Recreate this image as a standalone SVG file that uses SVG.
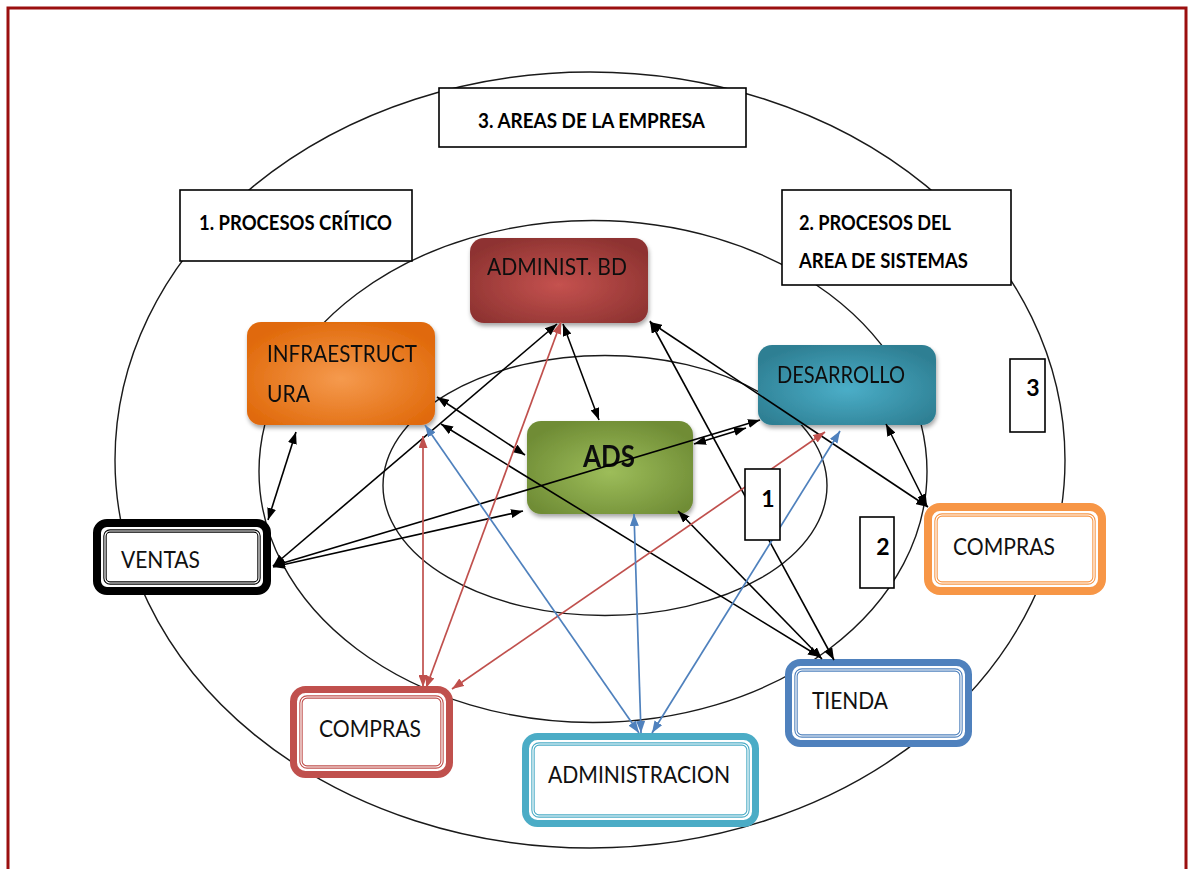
<svg xmlns="http://www.w3.org/2000/svg" width="1190" height="869" viewBox="0 0 1190 869">
  <defs>
    <style>
      .ring { fill: none; stroke: #1a1a1a; stroke-width: 1.4; }
      .lbl-box { fill: #fff; stroke: #000; stroke-width: 1.6; }
      .lbl { font-family: Lato, "Liberation Sans", sans-serif; font-weight: 700; font-size: 21px; fill: #000; }
      .num { font-family: Lato, "Liberation Sans", sans-serif; font-weight: 700; font-size: 23px; fill: #000; text-anchor: middle; }
      .txt { font-family: Lato, "Liberation Sans", sans-serif; font-size: 23px; fill: #111; }
      .ads { font-family: Lato, "Liberation Sans", sans-serif; font-weight: 700; font-size: 31px; fill: #111; }
      .k { fill: none; stroke: #000; stroke-width: 1.6; marker-start: url(#ah-k); marker-end: url(#ah-k); }
      .r { fill: none; stroke: #C0504D; stroke-width: 1.7; marker-start: url(#ah-r); marker-end: url(#ah-r); }
      .b { fill: none; stroke: #4F81BD; stroke-width: 1.7; marker-start: url(#ah-b); marker-end: url(#ah-b); }
      .inner-w { fill: none; stroke: #fff; stroke-width: 1.2; }
    </style>
    <marker id="ah-k" viewBox="0 0 12 9" refX="12" refY="4.5" markerWidth="12" markerHeight="9" markerUnits="userSpaceOnUse" orient="auto-start-reverse">
      <path d="M0,0 L12,4.5 L0,9 z" fill="#000"/>
    </marker>
    <marker id="ah-r" viewBox="0 0 12 9" refX="12" refY="4.5" markerWidth="12" markerHeight="9" markerUnits="userSpaceOnUse" orient="auto-start-reverse">
      <path d="M0,0 L12,4.5 L0,9 z" fill="#C0504D"/>
    </marker>
    <marker id="ah-b" viewBox="0 0 12 9" refX="12" refY="4.5" markerWidth="12" markerHeight="9" markerUnits="userSpaceOnUse" orient="auto-start-reverse">
      <path d="M0,0 L12,4.5 L0,9 z" fill="#4F81BD"/>
    </marker>
    <radialGradient id="g-red" cx="50%" cy="55%" r="60%">
      <stop offset="0" stop-color="#C5524F"/>
      <stop offset="1" stop-color="#8E3331"/>
    </radialGradient>
    <radialGradient id="g-orange" cx="50%" cy="55%" r="60%">
      <stop offset="0" stop-color="#F59A4E"/>
      <stop offset="1" stop-color="#E0690A"/>
    </radialGradient>
    <radialGradient id="g-green" cx="50%" cy="55%" r="60%">
      <stop offset="0" stop-color="#9DBD5A"/>
      <stop offset="1" stop-color="#6F8C35"/>
    </radialGradient>
    <radialGradient id="g-teal" cx="50%" cy="55%" r="60%">
      <stop offset="0" stop-color="#4BAEC8"/>
      <stop offset="1" stop-color="#2E7F93"/>
    </radialGradient>
    <filter id="shadow" x="-10%" y="-10%" width="120%" height="130%">
      <feDropShadow dx="1" dy="3" stdDeviation="2" flood-color="#000" flood-opacity="0.35"/>
    </filter>
  </defs>

  <!-- page frame -->
  <rect x="8" y="8" width="1178" height="880" fill="#fff" stroke="#9B0F0F" stroke-width="3"/>

  <!-- concentric areas -->
  <g id="rings">
    <ellipse class="ring" cx="590" cy="460" rx="475" ry="388"/>
    <ellipse class="ring" cx="593" cy="471.5" rx="334" ry="251"/>
    <ellipse class="ring" cx="605" cy="485.5" rx="222" ry="130"/>
  </g>

  <!-- filled process nodes -->
  <g id="node-adminbd" filter="url(#shadow)">
    <rect x="470" y="238" width="178" height="85" rx="14" fill="url(#g-red)"/>
    <text class="txt" x="487" y="275" textLength="140" lengthAdjust="spacingAndGlyphs">ADMINIST. BD</text>
  </g>
  <g id="node-infra" filter="url(#shadow)">
    <rect x="247" y="322" width="188" height="103" rx="14" fill="url(#g-orange)"/>
    <text class="txt" x="267" y="362" textLength="150" lengthAdjust="spacingAndGlyphs">INFRAESTRUCT</text>
    <text class="txt" x="267" y="402" textLength="43" lengthAdjust="spacingAndGlyphs">URA</text>
  </g>
  <g id="node-ads" filter="url(#shadow)">
    <rect x="527" y="421" width="166" height="93" rx="14" fill="url(#g-green)"/>
    <text class="ads" x="583" y="467" textLength="52" lengthAdjust="spacingAndGlyphs">ADS</text>
  </g>
  <g id="node-desarrollo" filter="url(#shadow)">
    <rect x="758" y="345" width="178" height="80" rx="14" fill="url(#g-teal)"/>
    <text class="txt" x="777" y="383" textLength="128" lengthAdjust="spacingAndGlyphs">DESARROLLO</text>
  </g>

  <!-- outlined area nodes -->
  <g id="node-ventas">
    <rect x="97" y="523" width="170" height="68" rx="10" fill="#fff" stroke="#000" stroke-width="8"/>
    <rect x="105" y="531" width="154" height="52" rx="5" fill="none" stroke="#000" stroke-width="3.4"/>
    <rect class="inner-w" x="105" y="531" width="154" height="52" rx="5"/>
    <text class="txt" x="121" y="568" textLength="79" lengthAdjust="spacingAndGlyphs">VENTAS</text>
  </g>
  <g id="node-compras-right">
    <rect x="928" y="507" width="174" height="84" rx="12" fill="#fff" stroke="#F79646" stroke-width="8"/>
    <rect x="936" y="515" width="158" height="68" rx="6" fill="none" stroke="#F79646" stroke-width="3.4"/>
    <rect class="inner-w" x="936" y="515" width="158" height="68" rx="6"/>
    <text class="txt" x="953" y="555" textLength="102" lengthAdjust="spacingAndGlyphs">COMPRAS</text>
  </g>
  <g id="node-compras-left">
    <rect x="293.5" y="689.5" width="156" height="85" rx="12" fill="#fff" stroke="#C0504D" stroke-width="7"/>
    <rect x="301" y="697" width="141" height="70" rx="6" fill="none" stroke="#C0504D" stroke-width="3.4"/>
    <rect class="inner-w" x="301" y="697" width="141" height="70" rx="6"/>
    <text class="txt" x="319" y="737" textLength="102" lengthAdjust="spacingAndGlyphs">COMPRAS</text>
  </g>
  <g id="node-administracion">
    <rect x="525.5" y="736.5" width="230" height="87" rx="12" fill="#fff" stroke="#4BACC6" stroke-width="7"/>
    <rect x="533" y="744" width="215" height="72" rx="6" fill="none" stroke="#4BACC6" stroke-width="3.4"/>
    <rect class="inner-w" x="533" y="744" width="215" height="72" rx="6"/>
    <text class="txt" x="548" y="783" textLength="182" lengthAdjust="spacingAndGlyphs">ADMINISTRACION</text>
  </g>
  <g id="node-tienda">
    <rect x="788.5" y="662.5" width="180" height="81" rx="12" fill="#fff" stroke="#4F81BD" stroke-width="7"/>
    <rect x="796" y="670" width="165" height="66" rx="6" fill="none" stroke="#4F81BD" stroke-width="3.4"/>
    <rect class="inner-w" x="796" y="670" width="165" height="66" rx="6"/>
    <text class="txt" x="812" y="709" textLength="76" lengthAdjust="spacingAndGlyphs">TIENDA</text>
  </g>

  <!-- relations between nodes -->
  <g id="connectors">
    <!-- black -->
    <line class="k" x1="268" y1="520" x2="296" y2="432"/>
    <line class="k" x1="563" y1="324" x2="599" y2="420"/>
    <line class="k" x1="273" y1="566" x2="557" y2="324"/>
    <line class="k" x1="273" y1="567" x2="523" y2="511"/>
    <line class="k" x1="273" y1="566" x2="760" y2="420"/>
    <line class="k" x1="694" y1="444" x2="746" y2="428"/>
    <line class="k" x1="437" y1="397" x2="525" y2="455"/>
    <line class="k" x1="441" y1="424" x2="820" y2="657"/>
    <line class="k" x1="678" y1="511" x2="822" y2="659"/>
    <line class="k" x1="650" y1="321" x2="834" y2="660"/>
    <line class="k" x1="650" y1="322" x2="928" y2="507"/>
    <line class="k" x1="886" y1="424" x2="927" y2="506"/>
    <!-- red -->
    <line class="r" x1="423" y1="436" x2="423" y2="687"/>
    <line class="r" x1="561" y1="322" x2="426" y2="688"/>
    <line class="r" x1="825" y1="432" x2="452" y2="689"/>
    <!-- blue -->
    <line class="b" x1="425" y1="425" x2="639" y2="733"/>
    <line class="b" x1="634" y1="514" x2="641" y2="733"/>
    <line class="b" x1="840" y1="431" x2="652" y2="733"/>
  </g>

  <!-- area titles and ring numbers -->
  <g id="label-areas">
    <rect class="lbl-box" x="439" y="88" width="307" height="59"/>
    <text class="lbl" x="478" y="128" textLength="227" lengthAdjust="spacingAndGlyphs">3. AREAS DE LA EMPRESA</text>
  </g>
  <g id="label-criticos">
    <rect class="lbl-box" x="180" y="190" width="232" height="71"/>
    <text class="lbl" x="199" y="229.5" textLength="193" lengthAdjust="spacingAndGlyphs">1. PROCESOS CRÍTICO</text>
  </g>
  <g id="label-sistemas">
    <rect class="lbl-box" x="782" y="190" width="229" height="95"/>
    <text class="lbl" x="799" y="230" textLength="152" lengthAdjust="spacingAndGlyphs">2. PROCESOS DEL</text>
    <text class="lbl" x="799" y="268" textLength="169" lengthAdjust="spacingAndGlyphs">AREA DE SISTEMAS</text>
  </g>
  <g id="label-ring-3">
    <rect class="lbl-box" x="1010" y="359" width="35" height="73"/>
    <text class="num" x="1033" y="396">3</text>
  </g>
  <g id="label-ring-1">
    <rect class="lbl-box" x="745" y="469" width="35" height="71"/>
    <text class="num" x="768" y="507">1</text>
  </g>
  <g id="label-ring-2">
    <rect class="lbl-box" x="860" y="517" width="34" height="71"/>
    <text class="num" x="883" y="555">2</text>
  </g>
</svg>
